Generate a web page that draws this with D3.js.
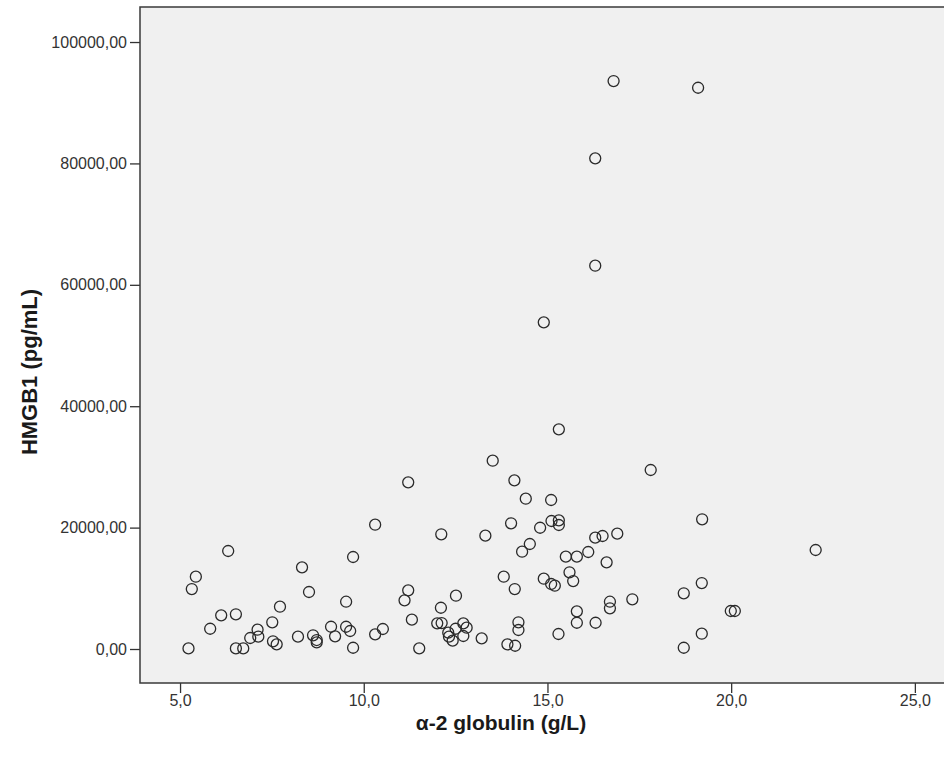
<!DOCTYPE html>
<html>
<head>
<meta charset="utf-8">
<script src="https://cdn.jsdelivr.net/npm/d3@7"></script>
<style>
  html, body { margin: 0; padding: 0; background: #ffffff; }
  svg { display: block; }
</style>
</head>
<body>
<svg id="chart" width="944" height="758"></svg>
<script>
// ---- data ----
const alpha2Globulin = [
  10.31, 6.31, 9.71, 8.32, 5.43, 5.32, 8.51, 9.52, 7.72, 6.12, 6.52, 7.51, 5.82, 7.11, 6.91, 7.13,
  7.53, 7.63, 8.21, 8.62, 8.72, 8.72, 9.11, 9.22, 9.52, 9.63, 9.71, 10.31, 10.52, 5.23, 6.52, 6.72,
  15.31, 13.51, 17.81, 11.21, 14.10, 14.41, 15.10, 14.01, 14.80, 15.11, 15.31, 15.31, 12.11, 13.31,
  14.52, 14.31, 16.30, 16.50, 16.90, 15.50, 15.80, 16.11, 16.61, 15.60, 15.70, 14.90, 15.10, 15.20,
  13.81, 14.11, 11.21, 11.11, 12.51, 12.10, 11.31, 12.00, 12.12, 12.71, 12.50, 12.30, 12.80, 12.71,
  12.32, 12.42, 13.21, 14.21, 14.21, 13.91, 14.12, 15.30, 11.51, 15.80, 15.80, 16.31, 16.70, 16.70,
  17.31,
  19.21, 22.30, 19.20, 18.71, 19.99, 20.10, 19.20, 18.71,
  16.80, 19.10, 16.30, 16.30, 14.90
];
const hmgb1 = [
  20480, 16150, 15160, 13460, 11910, 9880, 9390, 7790, 6970, 5550, 5720, 4400, 3340, 3180, 1810, 2030,
  1270, 770, 2030, 2260, 1480, 1100, 3670, 2090, 3670, 2970, 210, 2420, 3300, 100, 100, 100,
  36190, 31020, 29490, 27460, 27790, 24760, 24550, 20710, 19980, 21090, 21200, 20430, 18900, 18670,
  17300, 16030, 18340, 18620, 19000, 15210, 15210, 15980, 14280, 12640, 11200, 11580, 10710, 10430,
  11910, 9880, 9670, 8020, 8780, 6800, 4830, 4230, 4280, 4230, 3340, 2690, 3510, 2140,
  2030, 1370, 1760, 4400, 3130, 770, 540, 2470, 110, 6210, 4330, 4330, 7790, 6710,
  8190,
  21370, 16310, 10870, 9180, 6260, 6260, 2520, 210,
  93570, 92470, 80840, 63150, 53820
];
const xTickValues = [5, 10, 15, 20, 25];
const yTickValues = [0, 20000, 40000, 60000, 80000, 100000];
const xTitle = "α-2 globulin (g/L)";
const yTitle = "HMGB1 (pg/mL)";

// ---- layout ----
const W = 944, H = 758;
const plot = { left: 140, right: 945, top: 7, bottom: 683 };
const FONT = "Arial, 'Liberation Sans', sans-serif";

const svg = d3.select("#chart");

const x = d3.scaleLinear().domain([3.91, 25.82]).range([plot.left, plot.right]);
const y = d3.scaleLinear().domain([-5600, 105770]).range([plot.bottom, plot.top]);

const comma = (fmt) => (v) => d3.format(fmt)(v).replace(".", ",");

// plot background
svg.append("rect")
  .attr("x", plot.left).attr("y", plot.top)
  .attr("width", plot.right - plot.left).attr("height", plot.bottom - plot.top)
  .attr("fill", "#f0f0f0");

// axes
const xAxis = d3.axisBottom(x).tickValues(xTickValues).tickFormat(comma(".1f"))
  .tickSizeInner(10).tickSizeOuter(0).tickPadding(2);
const yAxis = d3.axisLeft(y).tickValues(yTickValues).tickFormat(comma(".2f"))
  .tickSizeInner(10).tickSizeOuter(0).tickPadding(3);

const gx = svg.append("g").attr("transform", `translate(0,${plot.bottom})`).call(xAxis);
const gy = svg.append("g").attr("transform", `translate(${plot.left},0)`).call(yAxis);

[gx, gy].forEach(g => {
  g.select(".domain").remove();
  g.selectAll(".tick line").attr("stroke", "#333").attr("stroke-width", 1.3);
  g.selectAll(".tick text")
    .attr("fill", "#333")
    .style("font-family", FONT)
    .style("font-size", "16px");
});

// frame
svg.append("rect")
  .attr("x", plot.left).attr("y", plot.top)
  .attr("width", plot.right - plot.left).attr("height", plot.bottom - plot.top)
  .attr("fill", "none").attr("stroke", "#3a3a3a").attr("stroke-width", 1.5);

// points
const pts = alpha2Globulin.map((v, i) => ({ x: v, y: hmgb1[i] }));
svg.append("g").selectAll("circle").data(pts).join("circle")
  .attr("cx", d => x(d.x))
  .attr("cy", d => y(d.y))
  .attr("r", 5.5)
  .attr("fill", "none")
  .attr("stroke", "#2a2a2a")
  .attr("stroke-width", 1.3);

// titles
svg.append("text")
  .attr("x", 501).attr("y", 729.5)
  .attr("text-anchor", "middle")
  .attr("fill", "#1a1a1a")
  .style("font-family", FONT)
  .style("font-weight", "bold")
  .style("font-size", "21px")
  .text(xTitle);

svg.append("text")
  .attr("transform", "translate(37,372) rotate(-90)")
  .attr("text-anchor", "middle")
  .attr("fill", "#1a1a1a")
  .style("font-family", FONT)
  .style("font-weight", "bold")
  .style("font-size", "22px")
  .text(yTitle);
</script>
</body>
</html>
